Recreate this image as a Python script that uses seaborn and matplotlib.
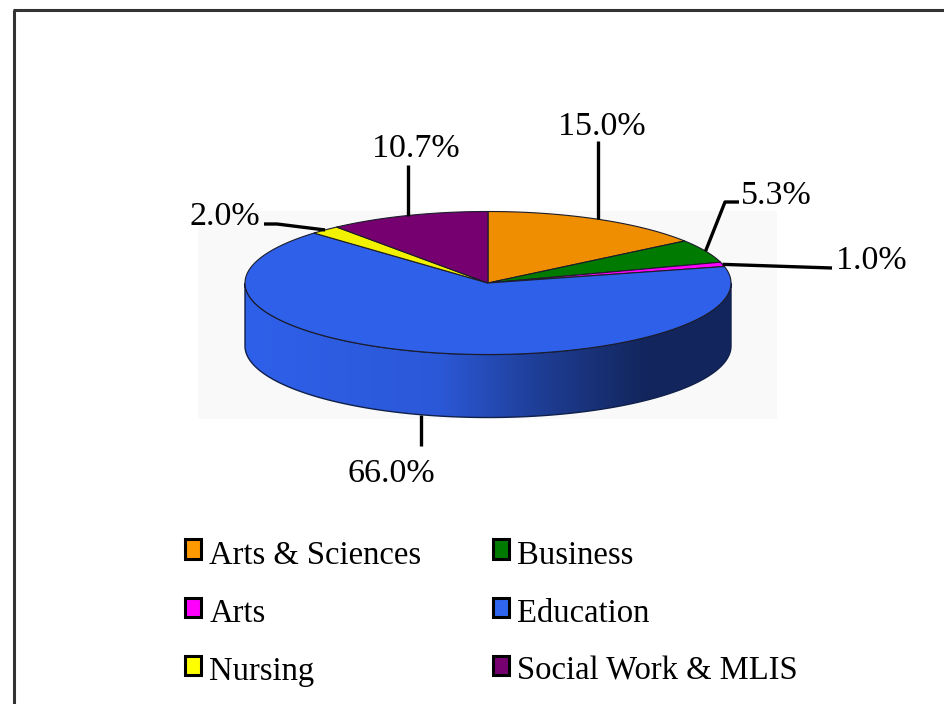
import numpy as np
import matplotlib
matplotlib.use("Agg")
import matplotlib.pyplot as plt
from matplotlib.patches import Patch, Polygon, Rectangle
import seaborn as sns

categories = ["Arts & Sciences", "Business", "Arts", "Education", "Nursing", "Social Work & MLIS"]
values = [15.0, 5.3, 1.0, 66.0, 2.0, 10.7]
colors = ["#ee8e00", "#007a00", "#ff00ff", "#2f60ea", "#f2f200", "#760070"]
legend_colors = ["#ff9900", "#007a00", "#ff00ff", "#2f66f0", "#ffff00", "#760070"]

sns.set_theme(style="white")
plt.rcParams["font.family"] = ["Liberation Serif", "DejaVu Serif"]
plt.rcParams["text.color"] = "black"

# pie geometry in picture pixels
cx, cy = 488, 283
rx, ry = 243, 71.5
depth = 63


def rim_point(deg, drop=0):
    a = np.radians(deg)
    return cx + rx * np.sin(a), cy - ry * np.cos(a) + drop


fig = plt.figure(figsize=(9.44, 7.04), dpi=100)
ax = fig.add_axes([0, 0, 1, 1])

# grey plot background
ax.add_patch(Rectangle((198, 211), 579, 208, fc="#f9f9f9", ec="none", zorder=0))

ends = np.cumsum(values) * 3.6
starts = ends - np.array(values) * 3.6
mids = (starts + ends) / 2

# side of the pie, shaded from left to right
for s, e, c in zip(starts, ends, colors):
    lo, hi = max(s, 90), min(e, 270)
    if lo >= hi:
        continue
    t = np.linspace(lo, hi, 200)
    top = np.array([rim_point(d) for d in t])
    bot = np.array([rim_point(d, depth) for d in t[::-1]])
    side = Polygon(np.vstack([top, bot]), closed=True, fc="none", ec="#10204a", lw=1.0, zorder=2)
    ax.add_patch(side)
    xs = np.linspace(0, 1, 486)
    shade = np.interp(xs, [0, 0.40, 0.62, 0.82, 1], [1.0, 0.92, 0.62, 0.40, 0.40])
    rgb = np.array(sns.color_palette([c])[0])
    img = np.outer(shade, rgb).reshape(1, -1, 3)
    im = ax.imshow(img, extent=(cx - rx, cx + rx, cy + ry + depth, cy - ry), aspect="auto", zorder=1.5)
    im.set_clip_path(side)

# top of the pie
for s, e, c in zip(starts, ends, colors):
    t = np.linspace(s, e, 200)
    pts = np.vstack([[cx, cy], [rim_point(d) for d in t]])
    ax.fill(pts[:, 0], pts[:, 1], fc=c, ec="#1c1c2a", lw=0.8, zorder=3)

# percentage labels and their leader lines
label_xy = [(602, 127), (776, 196), (871, 261), (391, 474), (225, 217), (416, 149)]
for i, (m, (lx, ly)) in enumerate(zip(mids, label_xy)):
    px, py = rim_point(m, depth if 90 < m < 270 else 0)
    if i == 0:
        path = [(px, py), (px, 141)]
    elif i == 1:
        path = [(px, py), (725, 202), (739, 202)]
    elif i == 2:
        path = [(px, py), (832, 268)]
    elif i == 3:
        path = [(px - 2, py), (px - 2, 446)]
    elif i == 4:
        path = [(px, py), (277, 224), (264, 224)]
    else:
        path = [(px, py), (px, 165)]
    path = np.array(path)
    ax.plot(path[:, 0], path[:, 1], color="black", lw=2.4, zorder=4, solid_capstyle="butt")
    ax.text(lx, ly, f"{values[i]:.1f}%", fontsize=24.5, color="black", ha="center", va="center", zorder=5)

# outer frame
ax.plot([13.5, 13.5], [704, 10], color="#333333", lw=2.2, zorder=6, solid_capstyle="butt")
ax.plot([13, 944], [10, 10], color="#333333", lw=2.2, zorder=6, solid_capstyle="butt")

order = [0, 2, 4, 1, 3, 5]
handles = [Patch(fc=legend_colors[i], ec="black", lw=2.2, label=categories[i]) for i in order]
leg = ax.legend(
    handles=handles, ncols=2, loc="upper left", bbox_to_anchor=(185, 540),
    bbox_transform=ax.transData, frameon=False, fontsize=23.5,
    handlelength=0.5, handleheight=0.55, handletextpad=0.24,
    labelspacing=0.85, columnspacing=2.2, borderpad=0, borderaxespad=0,
)
# boxes sit a little above the text middle
for h in leg.legend_handles:
    h.set_y(h.get_y() + 2)

ax.set_xlim(0, 944)
ax.set_ylim(704, 0)
ax.axis("off")
fig.savefig("out.png", dpi=100, facecolor="white")
